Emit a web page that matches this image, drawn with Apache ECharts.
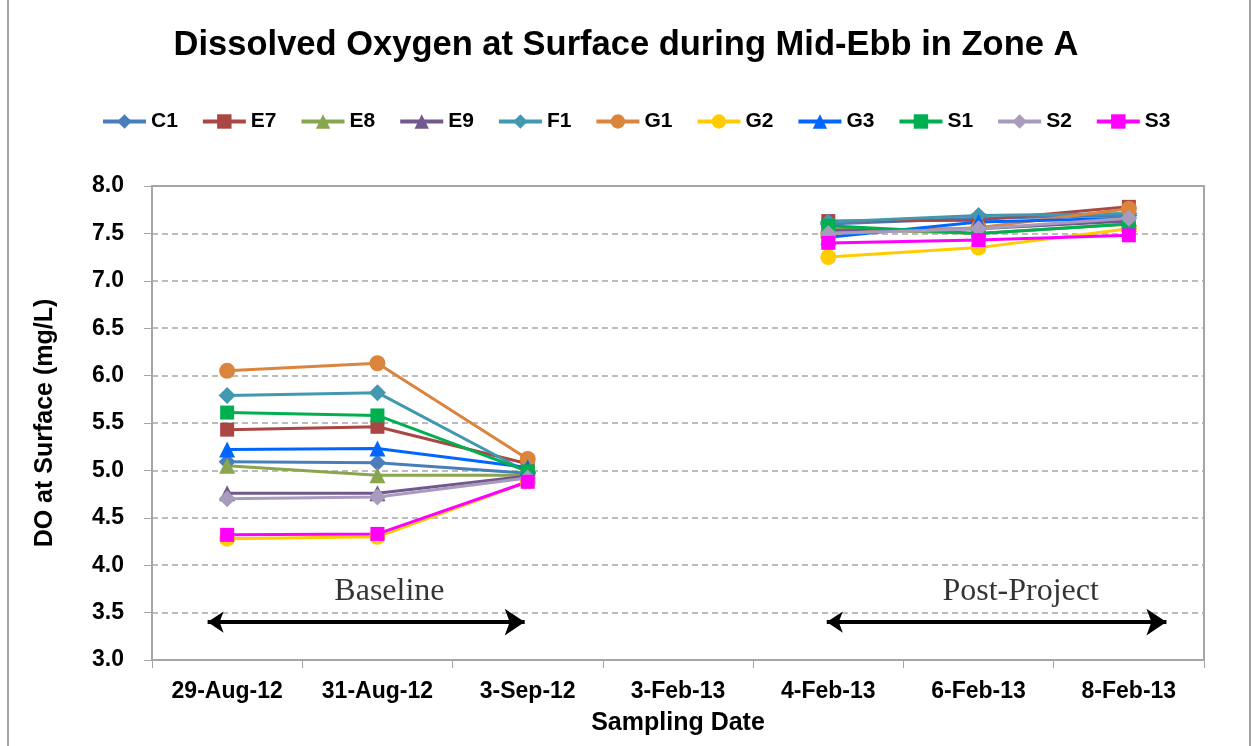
<!DOCTYPE html>
<html>
<head>
<meta charset="utf-8">
<title>Dissolved Oxygen at Surface during Mid-Ebb in Zone A</title>
<script src="https://cdn.jsdelivr.net/npm/echarts@6/dist/echarts.min.js"></script>
<style>
    html, body { margin: 0; padding: 0; background: #fff; overflow: hidden; }
    .frame { position: absolute; left: 7px; top: -4px; width: 1244px; height: 754px; border: 2px solid #a3a3a3; box-sizing: border-box; }
    #chartDiv { position: absolute; left: 0; top: 0; width: 1252px; height: 746px; }
</style>
</head>
<body>
<div class="frame"></div>
<div id="chartDiv"></div>
<script>
// 采样日期（3-Feb-13 没有数据）
var dates = ['29-Aug-12', '31-Aug-12', '3-Sep-12', '3-Feb-13', '4-Feb-13', '6-Feb-13', '8-Feb-13'];
var yTicks = [3.0, 8.0, 0.5];   // min, max, interval

// 各站点 DO 值 (mg/L)
var C1 = [5.09, 5.08, 4.97, null, 7.60, 7.66, 7.69];
var E7 = [5.43, 5.46, 5.07, null, 7.63, 7.64, 7.78];
var E8 = [5.05, 4.95, 4.95, null, 7.55, 7.50, 7.60];
var E9 = [4.76, 4.76, 4.94, null, 7.53, 7.55, 7.63];
var F1 = [5.79, 5.82, 4.98, null, 7.62, 7.69, 7.71];
var G1 = [6.05, 6.13, 5.12, null, 7.50, 7.56, 7.76];
var G2 = [4.28, 4.30, 4.88, null, 7.25, 7.35, 7.55];
var G3 = [5.22, 5.23, 5.03, null, 7.46, 7.62, 7.66];
var S1 = [5.61, 5.58, 4.99, null, 7.58, 7.50, 7.60];
var S2 = [4.70, 4.72, 4.92, null, 7.50, 7.55, 7.66];
var S3 = [4.32, 4.33, 4.88, null, 7.40, 7.43, 7.48];

var stations = ['C1', 'E7', 'E8', 'E9', 'F1', 'G1', 'G2', 'G3', 'S1', 'S2', 'S3'];
var values = [C1, E7, E8, E9, F1, G1, G2, G3, S1, S2, S3];

// 注释：箭头和文字（在 0-7 的隐藏数值轴上）
var periodNames = ['Baseline', 'Post-Project'];
var periodArrows = [[0.37, 2.48], [4.49, 6.75]];
var periodTextX = [1.58, 5.78];
var arrowY = 3.40;
var textY = 3.72;

var colors = ['#4A7EBB', '#AA4643', '#89A54E', '#71588F', '#4198AF', '#DB843D', '#FFCC00', '#0066FF', '#00B050', '#A99BBD', '#FF00FF'];
var symbols = ['diamond', 'rect', 'triangle', 'triangle', 'diamond', 'circle', 'circle', 'triangle', 'rect', 'diamond', 'rect'];
var sizes = { diamond: 17, rect: 14, triangle: 16, circle: 16 };

var series = [];
for (var i = 0; i < stations.length; i++) {
    series.push({
        name: stations[i],
        type: 'line',
        data: values[i],
        connectNulls: false,
        symbol: symbols[i],
        symbolSize: sizes[symbols[i]],
        showAllSymbol: true,
        itemStyle: { color: colors[i] },
        lineStyle: { color: colors[i], width: 3 },
        emphasis: { disabled: true },
        z: 3
    });
}

series.push({
    name: 'arrows',
    type: 'lines',
    coordinateSystem: 'cartesian2d',
    xAxisIndex: 1,
    symbol: ['arrow', 'arrow'],
    symbolSize: [16, 20],
    lineStyle: { color: '#000', width: 4, opacity: 1 },
    silent: true,
    data: periodArrows.map(function (a) {
        return { coords: [[a[0], arrowY], [a[1], arrowY]] };
    }),
    z: 4
});

series.push({
    name: 'periods',
    type: 'scatter',
    xAxisIndex: 1,
    symbolSize: 0,
    silent: true,
    data: periodNames.map(function (n, k) {
        return { name: n, value: [periodTextX[k], textY] };
    }),
    label: {
        show: true,
        position: 'inside',
        formatter: '{b}',
        fontFamily: 'Liberation Serif',
        fontSize: 32,
        color: '#000',
        textBorderWidth: 0
    },
    z: 4
});

var labelFont = { fontFamily: 'Liberation Sans', fontWeight: 'bold', color: '#000' };

var option = {
    animation: false,
    color: colors,
    title: {
        text: 'Dissolved Oxygen at Surface during Mid-Ebb in Zone A',
        left: 'center',
        top: 23,
        textStyle: { fontFamily: 'Liberation Sans', fontWeight: 'bold', fontSize: 34.5, color: '#000' }
    },
    legend: {
        data: stations,
        left: 96,
        top: 106,
        itemWidth: 43,
        itemHeight: 18,
        itemGap: 23,
        selectedMode: false,
        lineStyle: { width: 4 },
        textStyle: { fontFamily: 'Liberation Sans', fontWeight: 'bold', fontSize: 21, color: '#000' }
    },
    grid: {
        left: 152,
        right: 48,
        top: 186,
        bottom: 86,
        show: true,
        borderColor: '#a6a6a6',
        borderWidth: 2,
        containLabel: false
    },
    xAxis: [
        {
            type: 'category',
            data: dates,
            boundaryGap: true,
            name: 'Sampling Date',
            nameLocation: 'middle',
            nameGap: 51,
            nameTextStyle: { fontFamily: 'Liberation Sans', fontWeight: 'bold', fontSize: 25, color: '#000' },
            axisLine: { lineStyle: { color: '#a6a6a6', width: 2 } },
            axisTick: { show: true, inside: false, length: 8, lineStyle: { color: '#a6a6a6', width: 1 } },
            axisLabel: Object.assign({ fontSize: 23, margin: 20, interval: 0 }, labelFont),
            splitLine: { show: false }
        },
        {
            type: 'value',
            min: 0,
            max: 7,
            show: false,
            splitLine: { show: false }
        }
    ],
    yAxis: {
        type: 'value',
        min: yTicks[0],
        max: yTicks[1],
        interval: yTicks[2],
        name: 'DO at Surface (mg/L)',
        nameLocation: 'middle',
        nameGap: 94,
        nameTextStyle: { fontFamily: 'Liberation Sans', fontWeight: 'bold', fontSize: 25, color: '#000' },
        axisLine: { show: true, lineStyle: { color: '#a6a6a6', width: 2 } },
        axisTick: { show: true, inside: false, length: 8, lineStyle: { color: '#a6a6a6', width: 1 } },
        axisLabel: Object.assign({
            fontSize: 23,
            margin: 28,
            formatter: function (v) { return v.toFixed(1); }
        }, labelFont),
        splitLine: { show: true, lineStyle: { color: '#a6a6a6', type: [6, 4], width: 1.5 } }
    },
    series: series
};

var myChart = echarts.init(document.getElementById('chartDiv'), null, { renderer: 'canvas' });
myChart.setOption(option);
</script>
</body>
</html>
